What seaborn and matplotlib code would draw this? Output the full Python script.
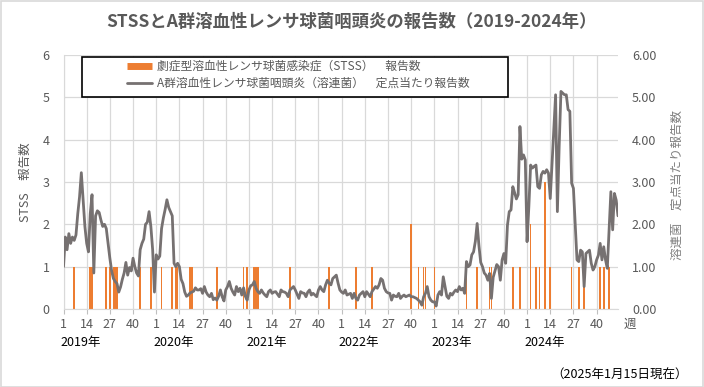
import numpy as np
import pandas as pd
import matplotlib
matplotlib.use("Agg")
import matplotlib.pyplot as plt
import seaborn as sns
from matplotlib.patches import Rectangle
from matplotlib.lines import Line2D
from matplotlib.ticker import FormatStrFormatter
import matplotlib.transforms as mtransforms

# data
years = [2019, 2020, 2021, 2022, 2023, 2024]
week_labels = [1, 14, 27, 40]

# 溶連菌 定点当たり報告数 (week 1-52)
gas_2019 = [1.00, 1.70, 1.40, 1.78, 1.55, 1.70, 1.62, 1.75, 2.25, 2.65,
            3.22, 2.60, 1.95, 1.55, 1.35, 2.25, 2.70, 0.85, 2.20, 2.32,
            2.28, 2.10, 1.95, 2.00, 1.90, 1.55, 1.20, 0.90, 0.72, 0.65,
            0.60, 0.40, 0.52, 0.70, 0.85, 1.10, 0.80, 0.98, 0.90, 1.20,
            1.00, 0.85, 0.78, 1.40, 1.55, 1.65, 2.00, 2.05, 2.30, 1.95,
            1.40, 0.40]
gas_2020 = [1.28, 1.18, 1.25, 1.90, 2.15, 2.35, 2.58, 2.40, 2.30, 2.20,
            1.08, 1.00, 1.08, 1.00, 0.70, 0.60, 0.40, 0.30, 0.33, 0.38,
            0.40, 0.42, 0.50, 0.45, 0.45, 0.48, 0.37, 0.53, 0.40, 0.33,
            0.29, 0.37, 0.22, 0.26, 0.21, 0.30, 0.45, 0.29, 0.19, 0.45,
            0.53, 0.65, 0.49, 0.40, 0.33, 0.53, 0.41, 0.49, 0.33, 0.50,
            0.30, 0.21]
gas_2021 = [0.45, 0.55, 0.57, 0.65, 0.49, 0.41, 0.37, 0.45, 0.38, 0.33,
            0.29, 0.41, 0.45, 0.37, 0.40, 0.41, 0.35, 0.29, 0.45, 0.41,
            0.40, 0.37, 0.29, 0.45, 0.49, 0.53, 0.45, 0.35, 0.25, 0.41,
            0.38, 0.37, 0.29, 0.40, 0.45, 0.33, 0.37, 0.33, 0.29, 0.45,
            0.53, 0.45, 0.41, 0.57, 0.68, 0.61, 0.57, 0.72, 0.76, 0.80,
            0.61, 0.45]
gas_2022 = [0.40, 0.37, 0.45, 0.33, 0.35, 0.37, 0.25, 0.37, 0.25, 0.21,
            0.33, 0.37, 0.41, 0.29, 0.41, 0.35, 0.29, 0.41, 0.47, 0.53,
            0.49, 0.57, 0.72, 0.68, 0.49, 0.41, 0.38, 0.37, 0.21, 0.33,
            0.30, 0.29, 0.37, 0.25, 0.30, 0.33, 0.29, 0.31, 0.33, 0.29,
            0.29, 0.27, 0.25, 0.21, 0.17, 0.09, 0.29, 0.37, 0.53, 0.29,
            0.21, 0.17]
gas_2023 = [0.17, 0.07, 0.33, 0.41, 0.33, 0.76, 0.53, 0.30, 0.25, 0.37,
            0.33, 0.40, 0.45, 0.41, 0.53, 0.45, 0.49, 0.37, 1.12, 1.00,
            1.04, 1.28, 1.35, 1.60, 2.02, 1.50, 1.10, 1.00, 0.85, 0.80,
            0.68, 0.84, 0.25, 0.75, 0.90, 1.05, 1.00, 0.68, 1.16, 1.31,
            1.08, 1.98, 2.30, 2.34, 2.89, 2.75, 2.60, 2.70, 4.31, 3.54,
            3.64, 3.52]
gas_2024 = [1.59, 2.42, 3.40, 3.33, 3.37, 3.40, 2.89, 2.85, 3.17, 3.25,
            3.21, 3.29, 3.21, 2.61, 3.44, 4.27, 5.06, 2.30, 3.84, 5.14,
            5.10, 5.06, 5.06, 4.71, 4.67, 2.97, 2.85, 2.02, 1.16, 1.12,
            1.39, 1.35, 0.53, 1.31, 1.35, 1.39, 1.08, 0.92, 1.00, 1.16,
            1.27, 1.55, 1.16, 1.47, 1.16, 0.96, 1.87, 2.77, 1.87, 2.73,
            2.57, 2.20]

# STSS 報告数 (only weeks with reports)
stss_year = [2019] * 11 + [2020] * 9 + [2021] * 5 + [2022] * 6 + [2023] * 7 + [2024] * 11
stss_week = [1, 7, 16, 17, 25, 27, 29, 30, 31, 44, 50,
             4, 10, 12, 13, 20, 21, 35, 50, 52,
             4, 5, 6, 24, 46,
             9, 18, 40, 44, 47, 48,
             1, 19, 25, 32, 33, 45, 49,
             3, 6, 8, 11, 14, 26, 30, 33, 42, 44, 47]
stss_count = [1] * 11 + [1] * 9 + [1] * 5 + [1, 1, 2, 1, 1, 1] + [1] * 7 + \
             [2, 1, 1, 3, 1, 1, 1, 1, 1, 1, 1]

gas = gas_2019 + gas_2020 + gas_2021 + gas_2022 + gas_2023 + gas_2024
df_gas = pd.DataFrame({"idx": np.arange(len(gas)), "value": gas})
df_stss = pd.DataFrame({"idx": [(y - 2019) * 52 + w - 1 for y, w in zip(stss_year, stss_week)],
                        "count": stss_count})

sns.set_style("white")
plt.rcParams['font.family'] = ['Noto Sans CJK JP', 'DejaVu Sans']

W, H = 704, 387
fig = plt.figure(figsize=(7.04, 3.87), dpi=100)
ax = fig.add_axes([63.5 / W, 1 - 309 / H, (618 - 63.5) / W, (309 - 55) / H])
ax2 = ax.twinx()

orange = "#ED7D31"
grey_line = "#767171"
txt = "#595959"
gridc = "#d9d9d9"

sns.barplot(data=df_stss, x="idx", y="count", native_scale=True, color=orange,
            saturation=1, width=0.9, linewidth=0, errorbar=None, ax=ax)
sns.lineplot(data=df_gas, x="idx", y="value", color=grey_line, linewidth=2.0, ax=ax2)

ax.set_xlim(0, 311)
ax.set_ylim(0, 6)
ax2.set_ylim(0, 6)
ax.set_yticks(range(7))
ax2.set_yticks(range(7))
ax2.yaxis.set_major_formatter(FormatStrFormatter('%.2f'))

ax.set_xticks(np.arange(0, 312, 13))
ax.set_xticklabels(week_labels * len(years))
ax.grid(True, color=gridc, linewidth=0.9)
ax.set_axisbelow(True)

for a in (ax, ax2):
    a.set_xlabel("")
    a.set_ylabel("")
    for s in a.spines.values():
        s.set_visible(False)
ax.spines['bottom'].set_visible(True)
ax.spines['bottom'].set_color(gridc)
ax.spines['left'].set_visible(True)
ax.spines['left'].set_color(gridc)

ax.tick_params(axis='y', length=0, pad=10, labelsize=9, labelcolor=txt)
ax2.tick_params(axis='y', length=0, pad=10, labelsize=9, labelcolor=txt)
ax.tick_params(axis='x', length=3.5, width=0.8, color="#bfbfbf", pad=3,
               labelsize=9, labelcolor=txt, bottom=True)

# year labels under the week ticks
trans = mtransforms.blended_transform_factory(ax.transData, ax.transAxes)
for i, y in enumerate(years):
    ax.text(i * 52 - 1.5, -0.13, f"{y}年", transform=trans, ha='left', va='center',
            fontsize=9, color='black')

fig.text(0.5, 1 - 22 / H, "STSSとA群溶血性レンサ球菌咽頭炎の報告数（2019-2024年）",
         ha='center', va='center', fontsize=12.5, fontweight='bold', color=txt)
fig.text(25 / W, 1 - 182 / H, "STSS　報告数", rotation=90, ha='center', va='center',
         fontsize=9, color=txt)
fig.text(677 / W, 1 - 185 / H, "溶連菌　定点当たり報告数", rotation=90, ha='center',
         va='center', fontsize=9, color="#7f7f7f")
fig.text(630 / W, 1 - 324 / H, "週", ha='center', va='center', fontsize=9, color=txt)
fig.text(688 / W, 1 - 375 / H, "（2025年1月15日現在）", ha='right', va='center',
         fontsize=9, color='black')

# legend box
fig.add_artist(Rectangle((82 / W, 1 - 97 / H), (508 - 82) / W, 40 / H,
                         transform=fig.transFigure, facecolor='white',
                         edgecolor='black', linewidth=1.2, zorder=10))
handles = [Line2D([], [], color=orange, linewidth=5, solid_capstyle='butt'),
           Line2D([], [], color=grey_line, linewidth=2.0)]
labels = ["劇症型溶血性レンサ球菌感染症（STSS）　報告数",
          "A群溶血性レンサ球菌咽頭炎（溶連菌）　定点当たり報告数"]
leg = fig.legend(handles, labels, loc='upper left', bbox_to_anchor=(127 / W, 1 - 60 / H),
                 frameon=False, fontsize=8.5, handlelength=2.1, handletextpad=0.4,
                 borderpad=0, borderaxespad=0, labelspacing=0.34, labelcolor=txt)
leg.set_zorder(11)

fig.add_artist(Rectangle((0.001, 0.001), 0.998, 0.997, transform=fig.transFigure,
                         fill=False, edgecolor=gridc, linewidth=1.2))

fig.savefig("out.png", dpi=100)
